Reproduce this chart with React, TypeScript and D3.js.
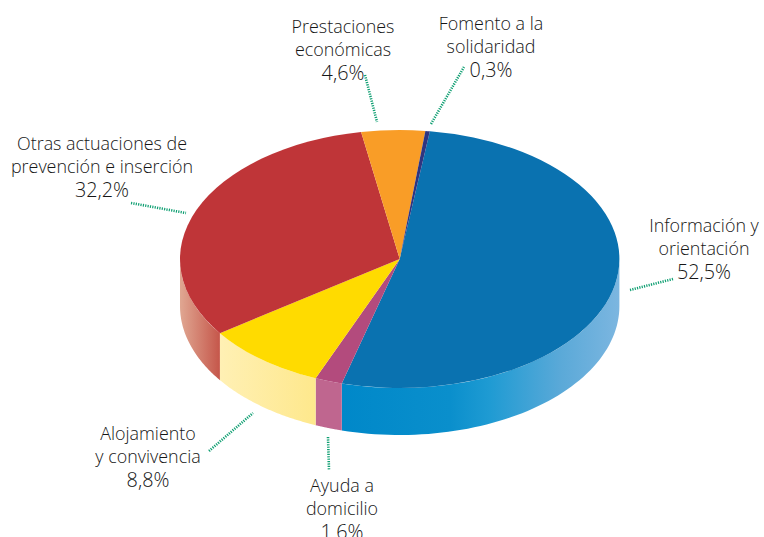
import React from "react";
import * as d3 from "d3";

const categories = ["Información y orientación", "Ayuda a domicilio", "Alojamiento y convivencia", "Otras actuaciones de prevención e inserción", "Prestaciones económicas", "Fomento a la solidaridad"];
const sliceShares = [52.0, 2.0, 9.0, 31.9, 4.67, 0.33];
const topColors = ["#0a72b0", "#b34b7d", "#ffdb00", "#bf3538", "#f99d27", "#2f3580"];
const sideStops: [number, string][][] = [
  [[342, "#0088c9"], [450, "#0a8fcc"], [490, "#1f9bd3"], [560, "#5aa9d8"], [619, "#7cb6e0"]],
  [[316, "#bf668f"], [342, "#bf668f"]],
  [[220, "#fff0b4"], [316, "#fee88c"]],
  [[180, "#e0a792"], [220, "#c5564a"]],
];
const labelLines = [
  ["Información y", "orientación"],
  ["Ayuda a", "domicilio"],
  ["Alojamiento", "y convivencia"],
  ["Otras actuaciones de", "prevención e inserción"],
  ["Prestaciones", "económicas"],
  ["Fomento a la", "solidaridad"],
];
const percentLabels = ["52,5%", "1,6%", "8,8%", "32,2%", "4,6%", "0,3%"];
const labelX = [704, 342, 148, 102, 343, 491];
const labelY = [232, 492, 440, 150, 33, 30];
const leaders = [
  [630, 290, 673, 279],
  [328, 437, 329, 470],
  [209, 451, 253, 413],
  [131, 203, 186, 213],
  [365, 75, 377, 122],
  [431, 124, 464, 67],
];

const cx = 399.7, cy = 259, rx = 219.7, ry = 129, depth = 47;
const startAngle = (7.9 * Math.PI) / 180;

export default function App() {
  const pie = d3.pie<number>().sort(null).startAngle(startAngle).endAngle(startAngle + 2 * Math.PI);
  const arcs = pie(sliceShares);
  const arcGen = d3.arc<d3.PieArcDatum<number>>().innerRadius(0).outerRadius(rx);
  const sy = ry / rx;
  const wall = d3.area<number>()
    .x((a) => cx + rx * Math.sin(a))
    .y0((a) => cy - ry * Math.cos(a))
    .y1((a) => cy - ry * Math.cos(a) + depth);
  const walls = arcs.map((s) => {
    const a0 = Math.max(s.startAngle, Math.PI / 2);
    const a1 = Math.min(s.endAngle, (3 * Math.PI) / 2);
    if (a1 <= a0) return null;
    return wall(d3.range(0, 61).map((i) => a0 + ((a1 - a0) * i) / 60));
  });
  return (
    <svg width={764} height={537} style={{ position: "absolute", left: 0, top: 0, background: "#fff" }}>
      <defs>
        {sideStops.map((stops, i) => (
          <linearGradient key={i} id={`side${i}`} gradientUnits="userSpaceOnUse" x1={stops[0][0]} x2={stops[stops.length - 1][0]} y1={0} y2={0}>
            {stops.map(([x, c], j) => (
              <stop key={j} offset={(x - stops[0][0]) / (stops[stops.length - 1][0] - stops[0][0])} stopColor={c} />
            ))}
          </linearGradient>
        ))}
      </defs>
      {walls.map((d, i) => d && <path key={i} d={d} fill={`url(#side${i})`} />)}
      <g transform={`translate(${cx},${cy}) scale(1,${sy})`}>
        {arcs.map((s, i) => (
          <path key={categories[i]} d={arcGen(s) as string} fill={topColors[i]} />
        ))}
      </g>
      {leaders.map((l, i) => (
        <line key={i} x1={l[0]} y1={l[1]} x2={l[2]} y2={l[3]} stroke="#0f9f72" strokeWidth={2.6} strokeDasharray="1.2 1.2" />
      ))}
      <g fontFamily="'Open Sans', sans-serif" fontWeight={300} fontSize={17.9} fill="#161616" textAnchor="middle">
        {labelLines.map((lines, i) => (
          <text key={i}>
            {lines.map((t, j) => (
              <tspan key={j} x={labelX[i]} y={labelY[i] + j * 23}>{t}</tspan>
            ))}
            <tspan x={labelX[i]} y={labelY[i] + 47} fontSize={19.8}>{percentLabels[i]}</tspan>
          </text>
        ))}
      </g>
    </svg>
  );
}
